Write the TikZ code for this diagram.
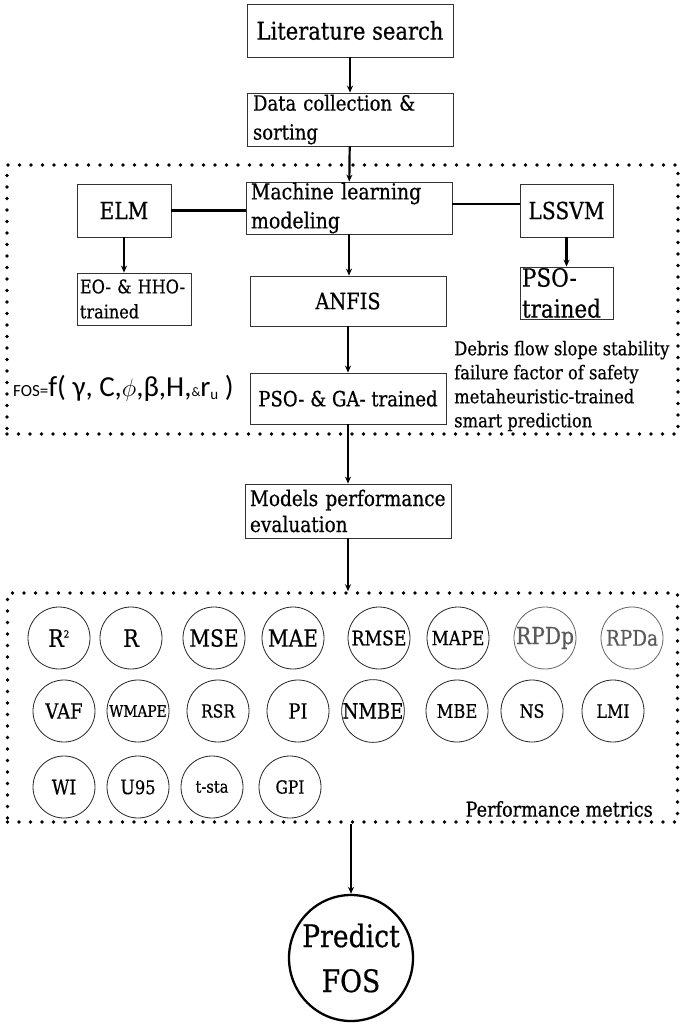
\documentclass[tikz,border=0pt]{standalone}
\usepackage{fontspec}
\setmainfont[FakeStretch=0.86,FakeBold=0.5]{DejaVu Serif}
\newfontfamily\carl{Carlito}
\usetikzlibrary{arrows.meta,shapes.geometric}
\newcommand{\myfs}[2]{\fontsize{#1}{#2}\selectfont}
\begin{document}
\begin{tikzpicture}[x=1pt,y=-1pt,
  box/.style={draw=black!80, line width=0.8pt, fill=white, inner sep=0pt},
  lbox/.style={box, align=left, inner xsep=6pt},
  arr/.style={line width=2.2pt, -{Stealth[length=7pt,width=6pt]}},
  bar/.style={line width=2.8pt},
  dotbox/.style={draw, line width=3.6pt, dash pattern=on 0pt off 11.5pt, line cap=round, inner sep=0pt},
  metric/.style={draw=black!85, line width=0.8pt, circle, minimum size=62pt, inner sep=0pt},
  grey/.style={metric, draw=black!60, text=black!65}
]
\fill[white] (0,0) rectangle (685,1027);
\useasboundingbox (0,0) rectangle (685,1027);

% dotted groups
\node[dotbox, minimum width=671pt, minimum height=269pt] (g1) at (342.5,299.5) {};
\node[dotbox, minimum width=670pt, minimum height=229pt] (g2) at (342.5,707.5) {};

% boxes
\node[box, minimum width=206pt, minimum height=53pt, font=\myfs{24.5}{29}] (lit) at (350,30.5) {Literature search};
\node[lbox, minimum width=206pt, minimum height=53pt, text width=194pt, font=\myfs{21}{29}] (data) at (350,119.5) {Data collection \&\\sorting};
\node[lbox, minimum width=206pt, minimum height=52pt, text width=196pt, inner xsep=5pt, font=\myfs{22}{29}] (ml) at (349,208) {Machine learning\\modeling};
\node[box, minimum width=94pt, minimum height=53pt, font=\myfs{23.5}{28}] (elm) at (124,210.5) {ELM};
\node[box, minimum width=93pt, minimum height=53pt, font=\myfs{23.5}{28}] (lssvm) at (566.5,210.5) {LSSVM};
\node[lbox, minimum width=114pt, minimum height=52pt, text width=108pt, inner xsep=3pt, font=\myfs{18.7}{25}] (eo) at (134,299) {EO- \& HHO-\\trained};
\node[box, minimum width=196pt, minimum height=50pt, font=\myfs{22.5}{28}] (anfis) at (348,301) {ANFIS};
\node[lbox, minimum width=93pt, minimum height=52pt, text width=89pt, inner xsep=2pt, font=\myfs{25}{31}] (pso) at (566.5,293) {PSO-\\trained};
\node[box, minimum width=196pt, minimum height=51pt, font=\myfs{21}{26}] (psoga) at (348,398.5) {PSO- \& GA- trained};
\node[lbox, minimum width=206pt, minimum height=54pt, text width=196pt, inner xsep=5pt, font=\myfs{21.5}{26}] (models) at (348,511) {Models performance\\evaluation};

% formula and notes
\node[anchor=west, inner sep=0pt] (fos) at (13,388) {{\carl\fontsize{17}{17}\selectfont FOS=}{\carl\fontsize{29}{29}\selectfont f( γ, C,$\phi$,β,H,}{\carl\fontsize{13}{13}\selectfont\&}{\carl\fontsize{29}{29}\selectfont r}\raisebox{-3pt}{\carl\fontsize{15}{15}\selectfont u}{\carl\fontsize{29}{29}\selectfont\ )}};
\node[anchor=west, align=left, inner sep=0pt, font=\myfs{19}{24}] (debris) at (454,386) {Debris flow slope stability\\failure factor of safety\\metaheuristic-trained\\smart prediction};
\node[anchor=east, inner sep=0pt, font=\myfs{20.5}{24}] (perf) at (653,809) {Performance metrics};

% metrics
\node[metric, font=\myfs{24}{28}] (m1) at (59,638) {R\textsuperscript{\fontsize{10}{10}\selectfont 2}};
\node[metric, font=\myfs{24}{28}] (m2) at (131,638) {R};
\node[metric, font=\myfs{23.5}{28}] (m3) at (214,638) {MSE};
\node[metric, font=\myfs{23.5}{28}] (m4) at (293,638) {MAE};
\node[metric, font=\myfs{20}{24}] (m5) at (379,638) {RMSE};
\node[metric, font=\myfs{19.5}{24}] (m6) at (458,638) {MAPE};
\node[grey, font=\myfs{23.5}{28}] (m7) at (545,638) {RPDp};
\node[grey, font=\myfs{21.5}{26}] (m8) at (632,638) {RPDa};
\node[metric, font=\myfs{21}{25}] (n1) at (64,711) {VAF};
\node[metric, font=\myfs{16}{20}] (n2) at (138,711) {WMAPE};
\node[metric, font=\myfs{18}{22}] (n3) at (218,711) {RSR};
\node[metric, font=\myfs{21}{25}] (n4) at (298,711) {PI};
\node[metric, font=\myfs{21}{25}] (n5) at (373,711) {NMBE};
\node[metric, font=\myfs{19}{23}] (n6) at (457,711) {MBE};
\node[metric, font=\myfs{18.5}{23}] (n7) at (532,711) {NS};
\node[metric, font=\myfs{18.5}{23}] (n8) at (613,711) {LMI};
\node[metric, font=\myfs{20}{24}] (k1) at (64,787) {WI};
\node[metric, font=\myfs{20}{24}] (k2) at (138,787) {U{\fontsize{19}{19}\selectfont 95}};
\node[metric, font=\myfs{17}{21}] (k3) at (212,787) {t-sta};
\node[metric, font=\myfs{18}{22}] (k4) at (290,787) {GPI};

\node[ellipse, draw, line width=2.3pt, minimum width=124pt, minimum height=126pt, inner xsep=-30pt, inner ysep=-12pt, align=center, font=\myfs{31}{45}] (pred) at (351,958) {Predict\\FOS};

% connectors
\draw[arr] (lit) -- (data);
\draw[arr] (data) -- (ml);
\draw[arr] (ml) -- (ml.south |- anfis.north);
\draw[arr] (anfis) -- (psoga);
\draw[arr] (psoga) -- (psoga.south |- models.north);
\draw[arr] (elm.south) -- (elm.south |- eo.north);
\draw[arr] (lssvm) -- (pso);
\draw[bar] (elm.east) -- (elm.east -| ml.west);
\draw[bar] (ml.east |- 0,204) -- (lssvm.west |- 0,204);
\coordinate (g2top) at (models.south |- g2.north);
\draw[arr] (models.south) -- (g2top);
\coordinate (g2bot) at (pred.north |- g2.south);
\draw[arr] (g2bot) -- (pred.north);
\end{tikzpicture}
\end{document}
